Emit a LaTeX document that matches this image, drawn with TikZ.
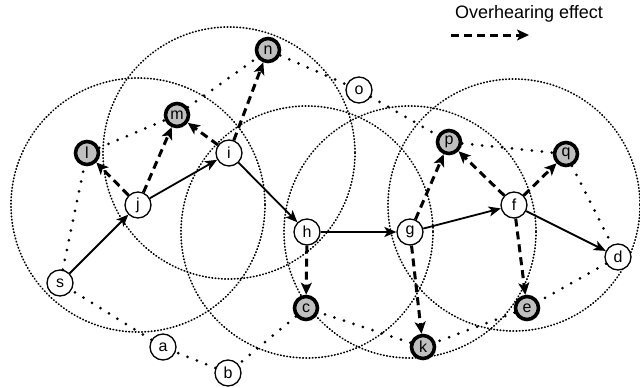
\documentclass[tikz,border=0pt]{standalone}
\usepackage{fontspec}
\setmainfont{Liberation Sans}
\usetikzlibrary{arrows.meta}
\begin{document}
\begin{tikzpicture}[x=1pt,y=-1pt,
  wnode/.style={circle,draw,line width=1.3pt,fill=white,minimum size=26pt,inner sep=0pt,font=\fontsize{16}{16}\selectfont},
  gnode/.style={circle,draw,line width=3.6pt,fill=black!25,minimum size=23pt,inner sep=0pt,font=\fontsize{16}{16}\selectfont},
  rangecirc/.style={line width=1.7pt,dash pattern=on 0.6pt off 2.6pt,line cap=round},
  nblink/.style={line width=3pt,dash pattern=on 0pt off 10pt,line cap=round},
  route/.style={line width=1.8pt,-{Stealth[length=12pt,width=10pt,inset=3pt]}},
  hear/.style={line width=3pt,dash pattern=on 8pt off 5pt,-{Stealth[length=12pt,width=11pt,inset=3pt]}}
]
\useasboundingbox (0,0) rectangle (640,388);
% ranges
\draw[rangecirc] (138,205) circle (127);
\draw[rangecirc] (229,153) circle (126);
\draw[rangecirc] (307,232) circle (126);
\draw[rangecirc] (410,232) circle (126);
\draw[rangecirc] (514,205) circle (126);
% nodes
\node[wnode] (s) at (60,283) {s};
\node[wnode] (j) at (138,205) {j};
\node[wnode] (i) at (229,153) {i};
\node[wnode] (h) at (307,232) {h};
\node[wnode] (g) at (410,232) {g};
\node[wnode] (f) at (514,205) {f};
\node[wnode] (d) at (618,257) {d};
\node[wnode] (o) at (359,90) {o};
\node[wnode] (a) at (163,347) {a};
\node[wnode] (b) at (228,373) {b};
\node[gnode] (l) at (87,153) {l};
\node[gnode] (m) at (177,115) {m};
\node[gnode] (n) at (268,50) {n};
\node[gnode] (p) at (449,142) {p};
\node[gnode] (q) at (566,154) {q};
\node[gnode] (c) at (306,308) {c};
\node[gnode] (k) at (423,347) {k};
\node[gnode] (e) at (527,308) {e};
% neighbour links
\draw[nblink] (s) -- (l);
\draw[nblink] (l) -- (m);
\draw[nblink] (m) -- (n);
\draw[nblink] (n) -- (o);
\draw[nblink] (o) -- (p);
\draw[nblink] (p) -- (q);
\draw[nblink] (q) -- (d);
\draw[nblink] (d) -- (e);
\draw[nblink] (e) -- (k);
\draw[nblink] (k) -- (c);
\draw[nblink] (c) -- (b);
\draw[nblink] (b) -- (a);
\draw[nblink] (a) -- (s);
% route
\draw[route] (s) -- (j);
\draw[route] (j) -- (i);
\draw[route] (i) -- (h);
\draw[route] (h) -- (g);
\draw[route] (g) -- (f);
\draw[route] (f) -- (d);
% overhearing
\draw[hear] (j) -- (l);
\draw[hear] (j) -- (m);
\draw[hear] (i) -- (m);
\draw[hear] (i) -- (n);
\draw[hear] (h) -- (c);
\draw[hear] (g) -- (p);
\draw[hear] (g) -- (k);
\draw[hear] (f) -- (p);
\draw[hear] (f) -- (q);
\draw[hear] (f) -- (e);
% legend
\node[font=\fontsize{18}{18}\selectfont,anchor=west,inner sep=0pt] (leg) at (455,14) {Overhearing effect};
\coordinate (l1) at (451,35);
\coordinate (l2) at (529,35);
\draw[hear] (l1) -- (l2);
\end{tikzpicture}
\end{document}
